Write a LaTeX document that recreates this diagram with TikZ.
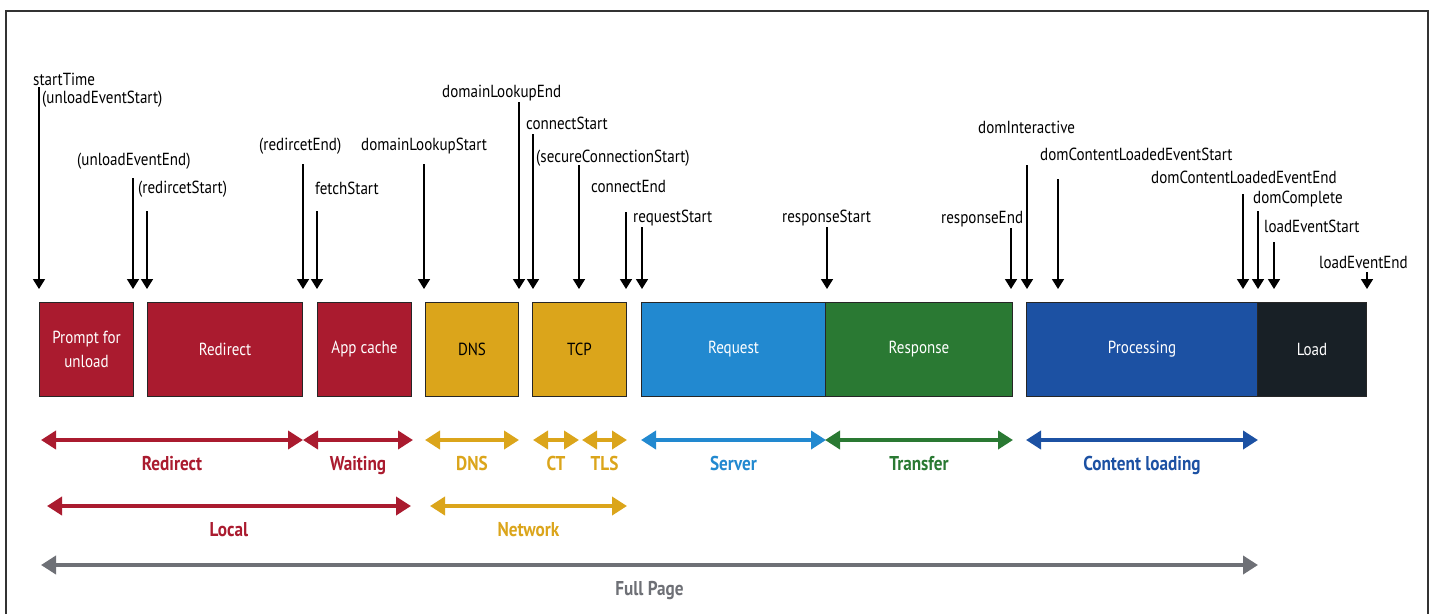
\documentclass[tikz,border=0pt]{standalone}
\usepackage{fontspec}
\setmainfont{PT Sans}[FakeStretch=0.86]
\usepackage{tikz}
\usetikzlibrary{calc,backgrounds,arrows.meta}
\usetikzlibrary{positioning}
\definecolor{redirectred}{RGB}{170,27,47}
\definecolor{netgold}{RGB}{219,165,27}
\definecolor{servblue}{RGB}{34,137,208}
\definecolor{transgreen}{RGB}{42,121,51}
\definecolor{contblue}{RGB}{28,81,163}
\definecolor{loadblack}{RGB}{24,32,38}
\definecolor{fullgray}{RGB}{110,112,118}
\tikzstyle{navtiming}=[
  x=1pt,y=-1pt,font=\fontsize{17.5}{20}\selectfont
]
\tikzstyle{phase}=[
  draw=black!85,line width=1pt,inner sep=0pt,anchor=north west,
  minimum height=94pt,text=white,align=center,font=\fontsize{17.5}{24}\selectfont
]
\tikzstyle{evlabel}=[
  inner sep=0pt,anchor=base west
]
\tikzstyle{evarrow}=[
  line width=1.6pt,-{Triangle[length=10pt,width=12pt]}
]
\tikzstyle{span}=[
  line width=4pt,{Triangle[length=15pt,width=18pt]}-{Triangle[length=15pt,width=18pt]}
]
\tikzstyle{spanlabel}=[
  midway,anchor=base,yshift=-30pt,inner sep=0pt,font=\bfseries\fontsize{20}{22}\selectfont
]

\begin{document}
\begin{tikzpicture}[navtiming]
    \def\tipy{289}
    \def\rowa{43}
    \def\rowb{109}
    \def\rowc{168}
    \useasboundingbox (0,0) rectangle (1435,614);
    \draw [line width=1.5pt,black!80] (6,614) -- (6,11) -- (1428,11) -- (1428,614);
    % phases
    \node (pu) at (39,302) [phase,minimum width=94pt,fill=redirectred] {Prompt for\\unload};
    \node (rd) at (147,302) [phase,minimum width=155pt,fill=redirectred] {Redirect};
    \node (ac) at (317,302) [phase,minimum width=94pt,fill=redirectred] {App cache};
    \node (dns) at (425,302) [phase,minimum width=93pt,fill=netgold,text=black] {DNS};
    \node (tcp) at (532,302) [phase,minimum width=94pt,fill=netgold,text=black] {TCP};
    \node (req) at (641,302) [phase,minimum width=184pt,fill=servblue] {Request};
    \node (resp) at (825,302) [phase,minimum width=187pt,fill=transgreen] {Response};
    \node (proc) at (1026,302) [phase,minimum width=231pt,fill=contblue] {Processing};
    \node (load) at (1257,302) [phase,minimum width=109pt,fill=loadblack] {Load};
    % event labels
    \node (st) at (33,85) [evlabel] {startTime};
    \node (ues) at (42,103) [evlabel] {(unloadEventStart)};
    \node (uee) at (77,165) [evlabel] {(unloadEventEnd)};
    \node (rs) at (138,193) [evlabel] {(redircetStart)};
    \node (re) at (259,150) [evlabel] {(redircetEnd)};
    \node (fs) at (315,194) [evlabel] {fetchStart};
    \node (dls) at (361,150) [evlabel] {domainLookupStart};
    \node (dle) at (442,97) [evlabel] {domainLookupEnd};
    \node (cs) at (526,129) [evlabel] {connectStart};
    \node (scs) at (536,162) [evlabel] {(secureConnectionStart)};
    \node (ce) at (591,192) [evlabel] {connectEnd};
    \node (rqs) at (633,222) [evlabel] {requestStart};
    \node (rps) at (782,222) [evlabel] {responseStart};
    \node (rpe) at (941,223) [evlabel] {responseEnd};
    \node (di) at (978,133) [evlabel] {domInteractive};
    \node (dcs) at (1040,160) [evlabel] {domContentLoadedEventStart};
    \node (dce) at (1151,183) [evlabel] {domContentLoadedEventEnd};
    \node (dc) at (1253,203) [evlabel] {domComplete};
    \node (les) at (1264,232) [evlabel] {loadEventStart};
    \node (lee) at (1319,268) [evlabel] {loadEventEnd};
    % event arrows
    \coordinate (s1) at (39,87);    \coordinate (t1) at (39,\tipy);
    \coordinate (s2) at (133,178);  \coordinate (t2) at (133,\tipy);
    \coordinate (s3) at (147,211);  \coordinate (t3) at (147,\tipy);
    \coordinate (s4) at (303,164);  \coordinate (t4) at (303,\tipy);
    \coordinate (s5) at (317,211);  \coordinate (t5) at (317,\tipy);
    \coordinate (s6) at (424,164);  \coordinate (t6) at (424,\tipy);
    \coordinate (s7) at (519,102);  \coordinate (t7) at (519,\tipy);
    \coordinate (s8) at (533,134);  \coordinate (t8) at (533,\tipy);
    \coordinate (s9) at (579,165);  \coordinate (t9) at (579,\tipy);
    \coordinate (s10) at (626,212); \coordinate (t10) at (626,\tipy);
    \coordinate (s11) at (642,227); \coordinate (t11) at (642,\tipy);
    \coordinate (s12) at (827,227); \coordinate (t12) at (827,\tipy);
    \coordinate (s13) at (1011,228); \coordinate (t13) at (1011,\tipy);
    \coordinate (s14) at (1027,165); \coordinate (t14) at (1027,\tipy);
    \coordinate (s15) at (1058,179); \coordinate (t15) at (1058,\tipy);
    \coordinate (s16) at (1243,194); \coordinate (t16) at (1243,\tipy);
    \coordinate (s17) at (1258,211); \coordinate (t17) at (1258,\tipy);
    \coordinate (s18) at (1274,242); \coordinate (t18) at (1274,\tipy);
    \coordinate (s19) at (1367,272); \coordinate (t19) at (1367,\tipy);
    \draw [evarrow] (s1) -- (t1);
    \draw [evarrow] (s2) -- (t2);
    \draw [evarrow] (s3) -- (t3);
    \draw [evarrow] (s4) -- (t4);
    \draw [evarrow] (s5) -- (t5);
    \draw [evarrow] (s6) -- (t6);
    \draw [evarrow] (s7) -- (t7);
    \draw [evarrow] (s8) -- (t8);
    \draw [evarrow] (s9) -- (t9);
    \draw [evarrow] (s10) -- (t10);
    \draw [evarrow] (s11) -- (t11);
    \draw [evarrow] (s12) -- (t12);
    \draw [evarrow] (s13) -- (t13);
    \draw [evarrow] (s14) -- (t14);
    \draw [evarrow] (s15) -- (t15);
    \draw [evarrow] (s16) -- (t16);
    \draw [evarrow] (s17) -- (t17);
    \draw [evarrow] (s18) -- (t18);
    \draw [evarrow] (s19) -- (t19);
    % spans
    \draw [span,redirectred] ($(pu.south west)+(2,\rowa)$) -- ($(rd.south east)+(0,\rowa)$) node [spanlabel] {Redirect};
    \draw [span,redirectred] ($(rd.south east)+(0,\rowa)$) -- ($(ac.south east)+(1,\rowa)$) node [spanlabel] {Waiting};
    \draw [span,netgold] ($(dns.south west)+(0,\rowa)$) -- ($(dns.south east)+(0,\rowa)$) node [spanlabel] {DNS};
    \draw [span,netgold] ($(tcp.south west)+(1,\rowa)$) -- ($(tcp.south west)+(47,\rowa)$) node [spanlabel] {CT};
    \draw [span,netgold] ($(tcp.south west)+(50,\rowa)$) -- ($(tcp.south east)+(0,\rowa)$) node [spanlabel] {TLS};
    \draw [span,servblue] ($(req.south west)+(0,\rowa)$) -- ($(req.south east)+(0,\rowa)$) node [spanlabel] {Server};
    \draw [span,transgreen] ($(resp.south west)+(0,\rowa)$) -- ($(resp.south east)+(0,\rowa)$) node [spanlabel] {Transfer};
    \draw [span,contblue] ($(proc.south west)+(0,\rowa)$) -- ($(proc.south east)+(0,\rowa)$) node [spanlabel] {Content loading};
    \draw [span,redirectred] ($(pu.south west)+(8,\rowb)$) -- ($(ac.south east)+(-1,\rowb)$) node [spanlabel] {Local};
    \draw [span,netgold] ($(dns.south west)+(5,\rowb)$) -- ($(tcp.south east)+(0,\rowb)$) node [spanlabel] {Network};
    \draw [span,fullgray] ($(pu.south west)+(2,\rowc)$) -- ($(proc.south east)+(0,\rowc)$) node [spanlabel] {Full Page};
  \end{tikzpicture}
\end{document}
